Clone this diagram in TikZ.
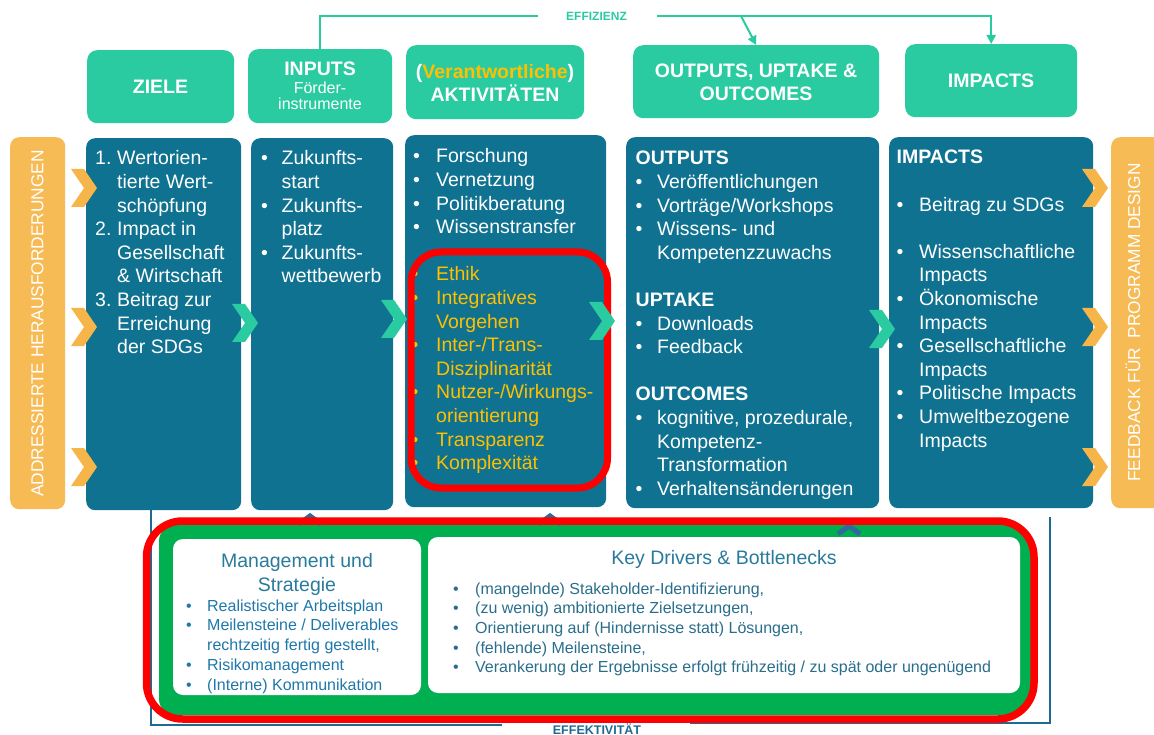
\documentclass[tikz,border=0pt]{standalone}
\usepackage{fontspec}
\setmainfont{Liberation Sans}
\usetikzlibrary{arrows.meta}
\definecolor{hdr}{HTML}{2ACBA1}
\definecolor{dblue}{HTML}{0F7290}
\definecolor{orng}{HTML}{F7BB55}
\definecolor{ochev}{HTML}{F6B548}
\definecolor{ylw}{HTML}{FFC000}
\definecolor{rd}{HTML}{FF0000}
\definecolor{grn}{HTML}{00B050}
\definecolor{mhead}{HTML}{2A7A9C}
\definecolor{mbul}{HTML}{1F78AA}
\definecolor{kbul}{HTML}{2A6E8C}
\definecolor{brk}{HTML}{1F6A93}
\definecolor{upc}{HTML}{2E6A9A}
\newcommand\colfont{\fontsize{19.5}{23.6}\selectfont}
\newcommand\hdrfont{\fontsize{19.5}{24}\selectfont\bfseries}
\newlength\bw
\newcommand\bitm{\makebox[\bw][l]{\textbullet}}
\newcommand\bnd{\hspace*{\bw}}
\newcommand\nitm[1]{\makebox[\bw][l]{#1}}
\newcommand\chev[3]{\fill[#1] (#2-26,#3-19) -- (#2-13,#3-19) -- (#2,#3) -- (#2-13,#3+19) -- (#2-26,#3+19) -- (#2-13,#3) -- cycle;}
\newcommand\upchev[2]{\draw[upc,line width=5pt] (#1-11,#2+9) -- (#1,#2+1) -- (#1+11,#2+9);}
\begin{document}
\begin{tikzpicture}[x=1pt,y=-1pt,
  hdrbox/.style={fill=hdr,draw=none,rounded corners=10pt,inner sep=0,anchor=north west},
  colbox/.style={fill=dblue,draw=none,rounded corners=9pt,inner sep=0,anchor=north west},
  barbox/.style={fill=orng,draw=none,rounded corners=9pt,inner sep=0,anchor=north west},
  txt/.style={inner sep=0,anchor=base west,text=white,font=\colfont},
  htxt/.style={inner sep=0,anchor=base,text=white,font=\hdrfont},
  effl/.style={draw=hdr,line width=2pt},
  effarrow/.style={-{Triangle[length=9pt,width=9pt]}},
  brkline/.style={draw=brk,line width=1.6pt},
  whitebox/.style={fill=white,draw=none,rounded corners=10pt}
]
\useasboundingbox (0,0) rectangle (1154,735);

% header boxes
\node[hdrbox,minimum width=147pt,minimum height=73pt] (ziele) at (87,50) {};
\node[hdrbox,minimum width=144pt,minimum height=74pt] (inputs) at (248,49) {};
\node[hdrbox,minimum width=178pt,minimum height=74pt] (akt) at (406,45) {};
\node[hdrbox,minimum width=246pt,minimum height=73pt] (outp) at (633,45) {};
\node[hdrbox,minimum width=172pt,minimum height=73pt] (imp) at (905,44) {};

\node[htxt] (zieletxt) at (160.5,93.5) {ZIELE};
\node[htxt] (inputstxt) at (320,76) {INPUTS};
\node[inner sep=0,anchor=base,text=white,font=\fontsize{16}{18}\selectfont] (foerd1) at (320,93.5) {Förder-};
\node[inner sep=0,anchor=base,text=white,font=\fontsize{16}{18}\selectfont] (foerd2) at (320,110) {instrumente};
\node[htxt] (akt1) at (495,79) {(\textcolor{ylw}{Verantwortliche})};
\node[htxt] (akt2) at (495,102) {AKTIVITÄTEN};
\node[htxt] (outp1) at (756,78) {OUTPUTS, UPTAKE \&};
\node[htxt] (outp2) at (756,101) {OUTCOMES};
\node[htxt] (imptxt) at (991,88) {IMPACTS};

% effizienz
\coordinate (e1) at (538,16);
\coordinate (e2) at (657,16);
\coordinate (e3) at (741,16);
\draw[effl] (inputs.north) |- (e1);
\node[inner sep=0,text=hdr,font=\fontsize{12}{13}\selectfont\bfseries] (eff) at (596.5,16) {EFFIZIENZ};
\draw[effl,effarrow] (e2) -| (imp.north);
\draw[effl,effarrow] (e3) -- (outp.north);

% side bars
\node[barbox,minimum width=55pt,minimum height=372pt] (lbar) at (10,137) {};
\node[barbox,minimum width=55pt,minimum height=371pt] (rbar) at (1111,137) {};
\node[rotate=90,inner sep=0,text=white,font=\fontsize{17.3}{20}\selectfont] (lbartxt) at (37.5,323.5) {ADDRESSIERTE HERAUSFORDERUNGEN};
\node[rotate=90,inner sep=0,text=white,font=\fontsize{17.3}{20}\selectfont] (rbartxt) at (1133,322.5) {FEEDBACK FÜR\ \ PROGRAMM DESIGN};

% columns
\node[colbox,minimum width=155pt,minimum height=372pt] (c1) at (86,138) {};
\node[colbox,minimum width=142pt,minimum height=372pt] (c2) at (251,138) {};
\node[colbox,minimum width=201pt,minimum height=372pt] (c3) at (405,135) {};
\node[colbox,minimum width=253pt,minimum height=371pt] (c4) at (626,137) {};
\node[colbox,minimum width=204pt,minimum height=371pt] (c5) at (889,137) {};

\node[txt] (c1txt) at (95,165) {\setlength\bw{22pt}\begin{tabular}[t]{@{}l@{}}
\nitm{1.}Wertorien-\\ \bnd tierte Wert-\\ \bnd schöpfung\\
\nitm{2.}Impact in\\ \bnd Gesellschaft\\ \bnd \& Wirtschaft\\
\nitm{3.}Beitrag zur\\ \bnd Erreichung\\ \bnd der SDGs
\end{tabular}};

\node[txt] (c2txt) at (261,165) {\setlength\bw{20.5pt}\begin{tabular}[t]{@{}l@{}}
\bitm Zukunfts-\\ \bnd start\\ \bitm Zukunfts-\\ \bnd platz\\ \bitm Zukunfts-\\ \bnd wettbewerb
\end{tabular}};

\node[txt] (c3txt) at (413,163) {\setlength\bw{23pt}\begin{tabular}[t]{@{}l@{}}
\bitm Forschung\\ \bitm Vernetzung\\ \bitm Politikberatung\\ \bitm Wissenstransfer
\end{tabular}};
\node[txt,text=ylw] (c3ytxt) at (411.5,281) {\setlength\bw{24.5pt}\begin{tabular}[t]{@{}l@{}}
\bitm Ethik\\ \bitm Integratives\\ \bnd Vorgehen\\ \bitm Inter-/Trans-\\ \bnd Disziplinarität\\
\bitm Nutzer-/Wirkungs-\\ \bnd orientierung\\ \bitm Transparenz\\ \bitm Komplexität
\end{tabular}};

\node[txt] (c4txt) at (635.5,165) {\setlength\bw{21.5pt}\begin{tabular}[t]{@{}l@{}}
\textbf{OUTPUTS}\\ \bitm Veröffentlichungen\\ \bitm Vorträge/Workshops\\ \bitm Wissens- und\\ \bnd Kompetenzzuwachs\\ \\
\textbf{UPTAKE}\\ \bitm Downloads\\ \bitm Feedback\\ \\
\textbf{OUTCOMES}\\ \bitm kognitive, prozedurale,\\ \bnd Kompetenz-\\ \bnd Transformation\\ \bitm Verhaltensänderungen
\end{tabular}};

\node[txt] (c5txt) at (896.5,164) {\setlength\bw{22.5pt}\begin{tabular}[t]{@{}l@{}}
\textbf{IMPACTS}\\ \\ \bitm Beitrag zu SDGs\\ \\
\bitm Wissenschaftliche\\ \bnd Impacts\\ \bitm Ökonomische\\ \bnd Impacts\\
\bitm Gesellschaftliche\\ \bnd Impacts\\ \bitm Politische Impacts\\ \bitm Umweltbezogene\\ \bnd Impacts
\end{tabular}};

% red frame around ethics block
\draw[rd,line width=7pt,rounded corners=30pt] (411,252) rectangle (607.5,488);

% chevrons
\chev{ochev}{97}{188}
\chev{ochev}{97}{327}
\chev{ochev}{97}{467}
\chev{hdr}{258}{323}
\chev{hdr}{407}{319}
\chev{hdr}{615}{321}
\chev{hdr}{895}{329}
\chev{ochev}{1108}{188}
\chev{ochev}{1108}{327}
\chev{ochev}{1108}{467}

% effektivitaet bracket
\coordinate (bl1) at (151,510);
\coordinate (bl2) at (151,725);
\coordinate (bl3) at (502,725);
\coordinate (br1) at (1050,517);
\coordinate (br2) at (1050,723);
\coordinate (br3) at (690,723);
\draw[brkline] (bl1) -- (bl2) -- (bl3);
\draw[brkline] (br1) -- (br2) -- (br3);
\node[inner sep=0,anchor=base,text=brk,font=\fontsize{12.5}{14}\selectfont\bfseries] (effekt) at (597,734.5) {EFFEKTIVITÄT};

% bottom panel
\fill[grn,rounded corners=16pt] (159,525) rectangle (1031,715);
\upchev{310}{515}
\upchev{550}{515}
\upchev{849}{525}
\fill[whitebox] (173,539) rectangle (421,695);
\fill[whitebox] (428,537) rectangle (1020,693);

\node[inner sep=0,anchor=base,text=mhead,font=\fontsize{19.5}{24}\selectfont] (mgmthead) at (297,567.5) {\begin{tabular}[t]{@{}c@{}}Management und\\ Strategie\end{tabular}};
\node[inner sep=0,anchor=base west,text=mbul,font=\fontsize{16}{19.9}\selectfont] (mgmtlist) at (186,611) {\setlength\bw{21pt}\begin{tabular}[t]{@{}l@{}}
\bitm Realistischer Arbeitsplan\\ \bitm Meilensteine / Deliverables\\ \bnd rechtzeitig fertig gestellt,\\ \bitm Risikomanagement\\ \bitm (Interne) Kommunikation
\end{tabular}};

\node[inner sep=0,anchor=base,text=mhead,font=\fontsize{19.5}{24}\selectfont] (keyhead) at (724,564.7) {Key Drivers \& Bottlenecks};
\node[inner sep=0,anchor=base west,text=kbul,font=\fontsize{16}{19.7}\selectfont] (keylist) at (453,594) {\setlength\bw{22pt}\begin{tabular}[t]{@{}l@{}}
\bitm (mangelnde) Stakeholder-Identifizierung,\\ \bitm (zu wenig) ambitionierte Zielsetzungen,\\ \bitm Orientierung auf (Hindernisse statt) Lösungen,\\ \bitm (fehlende) Meilensteine,\\ \bitm Verankerung der Ergebnisse erfolgt frühzeitig / zu spät oder ungenügend
\end{tabular}};

\draw[rd,line width=7.5pt,rounded corners=36pt] (146.5,521) rectangle (1034,719);
\end{tikzpicture}
\end{document}
